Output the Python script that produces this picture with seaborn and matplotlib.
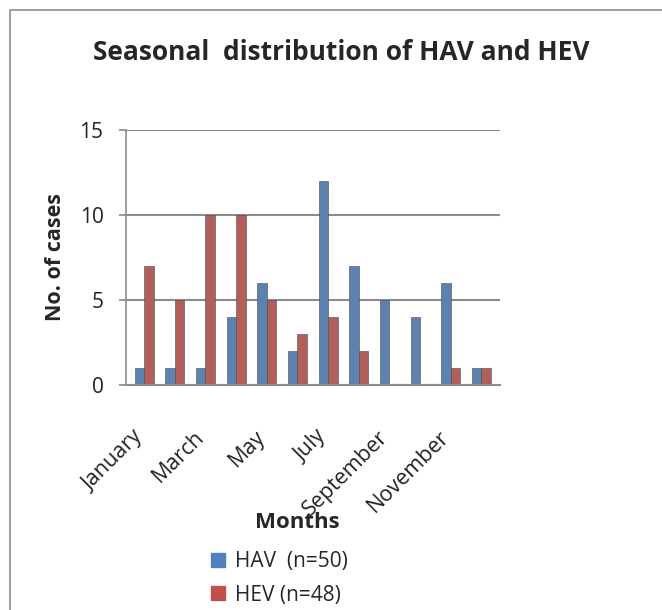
import matplotlib
matplotlib.use("Agg")
import matplotlib.pyplot as plt
import matplotlib.transforms as mtransforms
import seaborn as sns
import pandas as pd
from matplotlib.patches import Rectangle
from matplotlib.lines import Line2D

months = ["January", "February", "March", "April", "May", "June", "July",
          "August", "September", "October", "November", "December"]
hav = [1, 1, 1, 4, 6, 2, 12, 7, 5, 4, 6, 1]
hev = [7, 5, 10, 10, 5, 3, 4, 2, 0, 0, 1, 1]
series = ["HAV  (n=50)", "HEV (n=48)"]
colors = ["#4F81BD", "#C0504D"]

df = pd.DataFrame({
    "Month": months * 2,
    "Cases": hav + hev,
    "Series": [series[0]] * 12 + [series[1]] * 12,
})

sns.set_theme(style="white")
plt.rcParams['font.family'] = ['Open Sans', 'DejaVu Sans']

fig = plt.figure(figsize=(6.62, 6.10), dpi=100)
ax = fig.add_axes([0.19, 0.369, 0.565, 0.418])

sns.barplot(data=df, x="Month", y="Cases", hue="Series", palette=colors,
            width=0.62, ax=ax, legend=False, edgecolor="none")
for p in ax.patches:
    p.set_edgecolor("#4a4a4a")
    p.set_linewidth(0.4)

ax.set_ylim(0, 15)
ax.set_xlim(-0.6, 11.6)
ax.set_yticks([0, 5, 10, 15])
ax.set_yticklabels(["0", "5", "10", "15"], fontsize=15, color="#222222")
ax.yaxis.grid(True, color="#8c8c8c", linewidth=1.5)
ax.set_axisbelow(True)
ax.tick_params(axis="y", length=5, color="#8c8c8c", pad=11, left=True)
for s in ["top", "right"]:
    ax.spines[s].set_visible(False)
ax.spines["left"].set_color("#8c8c8c")
ax.spines["bottom"].set_color("#8c8c8c")
ax.spines["left"].set_linewidth(1.2)
ax.spines["bottom"].set_linewidth(1.5)

ax.set_xticks(range(0, 12, 2))
ax.set_xticklabels([months[i] for i in range(0, 12, 2)], rotation=45,
                   ha="right", rotation_mode="anchor", fontsize=15.5,
                   color="#222222")
ax.tick_params(axis="x", length=0, pad=30)
shift = mtransforms.ScaledTranslation(-0.12, 0, fig.dpi_scale_trans)
for lab in ax.get_xticklabels():
    lab.set_transform(lab.get_transform() + shift)

ax.set_ylabel("No. of cases", fontsize=15.5, fontweight="bold", labelpad=10)
ax.set_xlabel("")
fig.text(0.449, 0.143, "Months", fontsize=16, fontweight="bold", ha="center", va="center")

fig.text(0.515, 0.914, "Seasonal  distribution of HAV and HEV", fontsize=19,
         fontweight="bold", ha="center", va="center")

handles = [Line2D([0], [0], marker="s", color="none", markerfacecolor=c,
                  markeredgecolor=c, markersize=10) for c in colors]
fig.legend(handles, series, loc="center left", bbox_to_anchor=(0.285, 0.052),
           frameon=False, fontsize=15, handletextpad=0.3, labelspacing=0.6,
           handlelength=1.0)

fig.patches.append(Rectangle((10 / 662, -0.1), 1.2, 1.1 - 10 / 610,
                             transform=fig.transFigure, fill=False,
                             edgecolor="#8c8c8c", linewidth=1.2))

fig.savefig("out.png", dpi=100)
